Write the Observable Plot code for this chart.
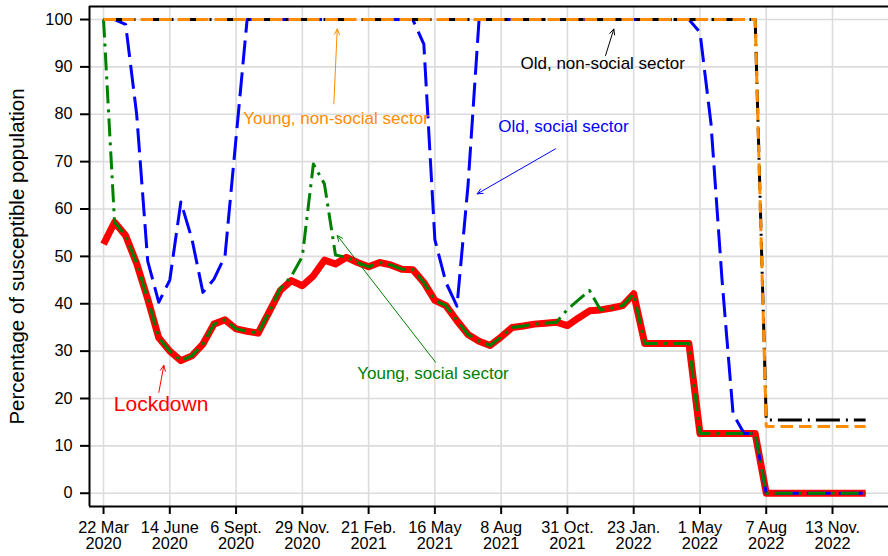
<!DOCTYPE html>
<html>
<head>
<meta charset="utf-8">
<script src="https://cdn.jsdelivr.net/npm/d3@7"></script>
<script src="https://cdn.jsdelivr.net/npm/@observablehq/plot@0.6"></script>
<style>
  html, body { margin: 0; padding: 0; background: #fff; }
  #chart { width: 888px; height: 556px; }
</style>
</head>
<body>
<div id="chart"></div>
<script>
// ---- Data (x = period index, ticks every 6 periods) ----
const xTickIndex = [0, 6, 12, 18, 24, 30, 36, 42, 48, 54, 60, 66];
const xTickLabels = ["22 Mar\n2020", "14 June\n2020", "6 Sept.\n2020", "29 Nov.\n2020",
  "21 Feb.\n2021", "16 May\n2021", "8 Aug\n2021", "31 Oct.\n2021",
  "23 Jan.\n2022", "1 May\n2022", "7 Aug\n2022", "13 Nov.\n2022"];
const yTicks = [0, 10, 20, 30, 40, 50, 60, 70, 80, 90, 100];

// Lockdown (red)
const lockdown = [
  52.6, 57.2, 54.4, 48.5, 41.0, 32.8, 30.0, 28.0, 29.0, 31.5,
  35.7, 36.6, 34.7, 34.2, 33.8, 38.3, 42.8, 44.9, 43.8, 45.9,
  49.2, 48.4, 49.8, 48.7, 47.8, 48.7, 48.2, 47.3, 47.2, 44.5,
  40.7, 39.6, 36.4, 33.5, 32.1, 31.2, 33.0, 35.0, 35.3, 35.7,
  35.9, 36.1, 35.4, 37.0, 38.5, 38.7, 39.1, 39.6, 42.1, 31.6,
  31.6, 31.6, 31.6, 31.6, 12.6, 12.6, 12.6, 12.6, 12.6, 12.6,
  0, 0, 0, 0, 0, 0, 0, 0, 0, 0
];
// Young, social sector (green)
const youngSocial = [
  100, 57.2, 54.4, 48.5, 41.0, 32.8, 30.0, 28.0, 29.0, 31.5,
  35.7, 36.6, 34.7, 34.2, 33.8, 38.3, 43.2, 45.8, 50.0, 69.5,
  65.3, 50.3, 49.8, 48.7, 47.8, 48.7, 48.2, 47.3, 47.2, 44.5,
  40.7, 39.6, 36.4, 33.5, 32.1, 31.2, 33.0, 35.0, 35.3, 35.7,
  35.9, 36.1, 38.8, 40.8, 42.8, 38.7, 39.1, 39.6, 42.1, 31.6,
  31.6, 31.6, 31.6, 31.6, 12.6, 12.6, 12.6, 12.6, 12.6, 12.6,
  0, 0, 0, 0, 0, 0, 0, 0, 0, 0
];
// Old, social sector (blue)
const oldSocial = [
  100, 100, 99.0, 80.0, 49.0, 40.3, 45.0, 61.5, 53.7, 42.4,
  45.2, 50.1, 75.0, 100, 100, 100, 100, 100, 100, 100,
  100, 100, 100, 100, 100, 100, 100, 100, 100, 94.8,
  53.5, 44.5, 39.5, 65.0, 100, 100, 100, 100, 100, 100,
  100, 100, 100, 100, 100, 100, 100, 100, 100, 100,
  100, 100, 100, 100, 97.3, 78.0, 45.0, 16.7, 12.6, 12.6,
  0, 0, 0, 0, 0, 0, 0, 0, 0, 0
];
// Old, non-social sector (black)
const oldNonSocial = [
  100, 100, 100, 100, 100, 100, 100, 100, 100, 100,
  100, 100, 100, 100, 100, 100, 100, 100, 100, 100,
  100, 100, 100, 100, 100, 100, 100, 100, 100, 100,
  100, 100, 100, 100, 100, 100, 100, 100, 100, 100,
  100, 100, 100, 100, 100, 100, 100, 100, 100, 100,
  100, 100, 100, 100, 100, 100, 100, 100, 100, 100,
  15.45, 15.45, 15.45, 15.45, 15.45, 15.45, 15.45, 15.45, 15.45, 15.45
];
// Young, non-social sector (orange)
const youngNonSocial = [
  100, 100, 100, 100, 100, 100, 100, 100, 100, 100,
  100, 100, 100, 100, 100, 100, 100, 100, 100, 100,
  100, 100, 100, 100, 100, 100, 100, 100, 100, 100,
  100, 100, 100, 100, 100, 100, 100, 100, 100, 100,
  100, 100, 100, 100, 100, 100, 100, 100, 100, 100,
  100, 100, 100, 100, 100, 100, 100, 100, 100, 100,
  14.1, 14.1, 14.1, 14.1, 14.1, 14.1, 14.1, 14.1, 14.1, 14.1
];

// Annotations (data coordinates)
const noteText = ["Young, non-social sector", "Old, non-social sector", "Old, social sector", "Young, social sector", "Lockdown"];
const noteX = [12.65, 37.75, 35.74, 22.97, 0.93];
const noteY = [79.2, 90.7, 77.4, 25.3, 18.8];
const arrowX1 = [20.85, 45.45, 40.92, 30.06, 5.01];
const arrowY1 = [82.2, 92.4, 72.7, 27.65, 21.3];
const arrowX2 = [21.16, 46.2, 33.83, 21.16, 5.46];
const arrowY2 = [98.0, 98.0, 63.2, 54.4, 27.0];

// ---- Styles ----
const cRed = "#ff0000", cGreen = "#008000", cBlue = "#0000ff", cBlack = "#000000", cOrange = "#ff8c00";
const noteColors = [cOrange, cBlack, cBlue, cGreen, cRed];
const noteSizes = [17, 17, 17, 17, 21];
const xDomain = [-1.27, 71.07];
const yDomain = [-2.8, 102.75];
const gridColor = "#dcdcdc";

const tickLabelMap = new Map(xTickIndex.map((t, i) => [t, xTickLabels[i]]));
const notes = noteText.map((t, i) => ({t, x: noteX[i], y: noteY[i], c: noteColors[i], s: noteSizes[i]}));
const arrows = arrowX1.map((_, i) => ({x1: arrowX1[i], y1: arrowY1[i], x2: arrowX2[i], y2: arrowY2[i], c: noteColors[i]}));

const lineOpts = (stroke, width, dash) => ({
  x: (d, i) => i, y: d => d, stroke, strokeWidth: width,
  strokeDasharray: dash, strokeLinejoin: "round", strokeLinecap: "butt"
});

const chart = Plot.plot({
  width: 888,
  height: 556,
  marginLeft: 89,
  marginRight: 0,
  marginTop: 6,
  marginBottom: 50,
  x: {domain: xDomain},
  y: {domain: yDomain},
  style: {fontFamily: "'Liberation Sans', Arial, Helvetica, sans-serif", background: "#fff", color: "#000", overflow: "visible"},
  marks: [
    Plot.gridX(xTickIndex, {stroke: gridColor, strokeOpacity: 1, strokeWidth: 1.6}),
    Plot.gridY(yTicks, {stroke: gridColor, strokeOpacity: 1, strokeWidth: 1.6}),
    Plot.line(lockdown, lineOpts(cRed, 7, null)),
    Plot.line(oldSocial, lineOpts(cBlue, 3, "24,8")),
    Plot.line(youngSocial, lineOpts(cGreen, 3, "18,6,3,6")),
    Plot.line(oldNonSocial, lineOpts(cBlack, 3, "24,6,2,6")),
    Plot.line(youngNonSocial, lineOpts(cOrange, 3, "12.5,6")),
    Plot.arrow(arrows, {x1: "x1", y1: "y1", x2: "x2", y2: "y2", stroke: d => d.c, strokeWidth: 1, headLength: 9, headAngle: 50}),
    Plot.text(notes, {x: "x", y: "y", text: "t", fill: d => d.c, fontSize: d => d.s, textAnchor: "start"}),
    Plot.ruleX([xDomain[0]], {stroke: "#000", strokeWidth: 2}),
    Plot.ruleY([yDomain[0]], {stroke: "#000", strokeWidth: 2}),
    Plot.ruleY([yDomain[1]], {stroke: "#000", strokeWidth: 2}),
    Plot.axisX(xTickIndex, {tickFormat: d => tickLabelMap.get(d), tickSize: 8, tickPadding: 7, fontSize: 16.3, strokeWidth: 2, label: null}),
    Plot.axisY(yTicks, {tickSize: 9, tickPadding: 8, fontSize: 16.3, strokeWidth: 2, label: null}),
    Plot.text(["Percentage of susceptible population"], {frameAnchor: "left", textAnchor: "middle", dx: -72, rotate: -90, fontSize: 20.5, fill: "#000"})
  ]
});
document.getElementById("chart").appendChild(chart);
</script>
</body>
</html>
